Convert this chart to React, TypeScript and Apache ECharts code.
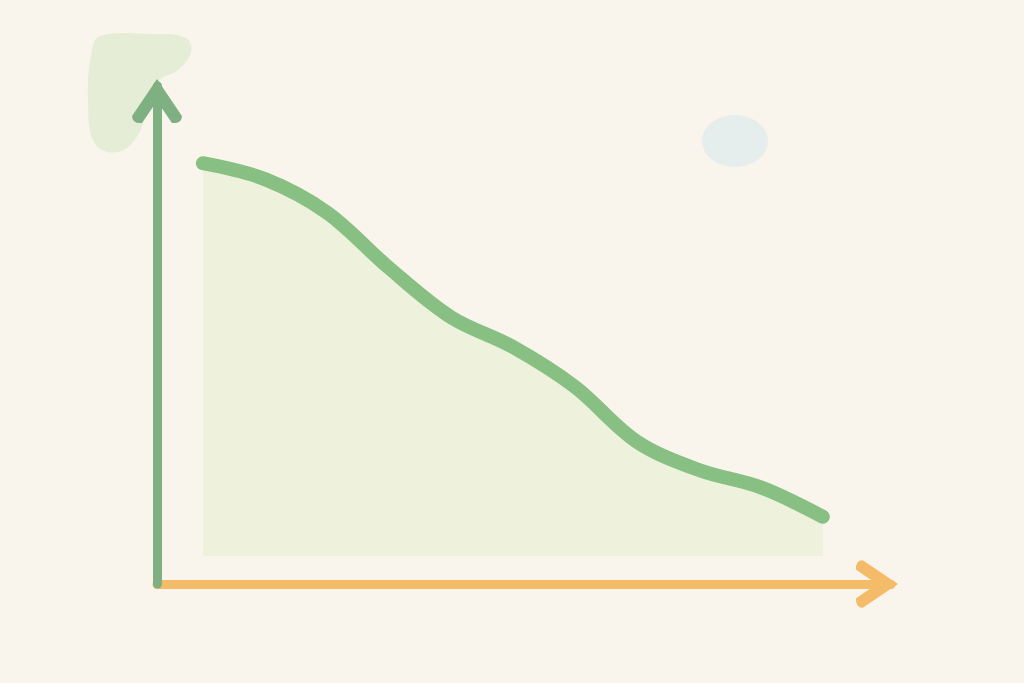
import { useEffect, useRef } from "react";
import * as echarts from "echarts";

// position along the horizontal axis (0 = first point, 100 = last point)
const xs = [0, 10, 20, 30, 40, 50, 60, 70, 80, 90, 100];
// height of the curve (0 = horizontal axis, 100 = top of vertical axis)
const ys = [84.5, 81.3, 74.6, 63.5, 53.6, 47.6, 39.6, 28.6, 22.9, 19.4, 13.5];
// bottom edge of the shaded area
const areaBase = 5.6;

const chevron =
  "path://M25 0 L50 37 Q50 45 40 44 L25 22 L10 44 Q0 45 0 37 Z";

export default function App() {
  const chartRef = useRef<HTMLDivElement | null>(null);

  useEffect(() => {
    if (!chartRef.current) return;
    const chart = echarts.init(chartRef.current, undefined, { renderer: "svg" });

    const option = {
      animation: false,
      backgroundColor: "#faf5ec",
      grid: { left: 157, right: 133, top: 86, bottom: 99 },
      xAxis: {
        type: "value",
        min: -7.4,
        max: 111,
        z: 1,
        axisLine: {
          show: true,
          onZero: false,
          symbol: ["none", chevron],
          symbolSize: [56, 42],
          symbolOffset: [0, -14],
          lineStyle: { color: "#f4bb68", width: 9 },
        },
        axisTick: { show: false },
        axisLabel: { show: false },
        splitLine: { show: false },
      },
      yAxis: {
        type: "value",
        min: 0,
        max: 100,
        z: 2,
        axisLine: {
          show: true,
          onZero: false,
          symbol: ["none", chevron],
          symbolSize: [52, 44],
          symbolOffset: [0, -15],
          lineStyle: { color: "#7fb082", width: 9 },
        },
        axisTick: { show: false },
        axisLabel: { show: false },
        splitLine: { show: false },
      },
      graphic: [
        {
          type: "polygon",
          z: -10,
          shape: {
            smooth: 0.4,
            points: [
              [100, 36], [150, 34], [186, 38], [191, 52], [178, 70], [160, 80],
              [148, 105], [138, 135], [118, 152], [95, 144], [88, 100], [92, 50],
            ],
          },
          style: { fill: "#e5edd7" },
        },
        {
          type: "ellipse",
          z: -10,
          shape: { cx: 735, cy: 141, rx: 33, ry: 26 },
          style: { fill: "#e5eeec" },
        },
      ],
      series: [
        {
          type: "line",
          data: xs.map((x, i) => [x, ys[i]]),
          smooth: 0.34,
          showSymbol: false,
          lineStyle: { color: "#88c083", width: 14, cap: "round" },
          areaStyle: { color: "#eef1dc", opacity: 1, origin: areaBase },
        },
      ],
    };

    chart.setOption(option);
    return () => chart.dispose();
  }, []);

  return (
    <div
      ref={chartRef}
      style={{ position: "absolute", left: 0, top: 0, width: 1024, height: 683 }}
    />
  );
}
